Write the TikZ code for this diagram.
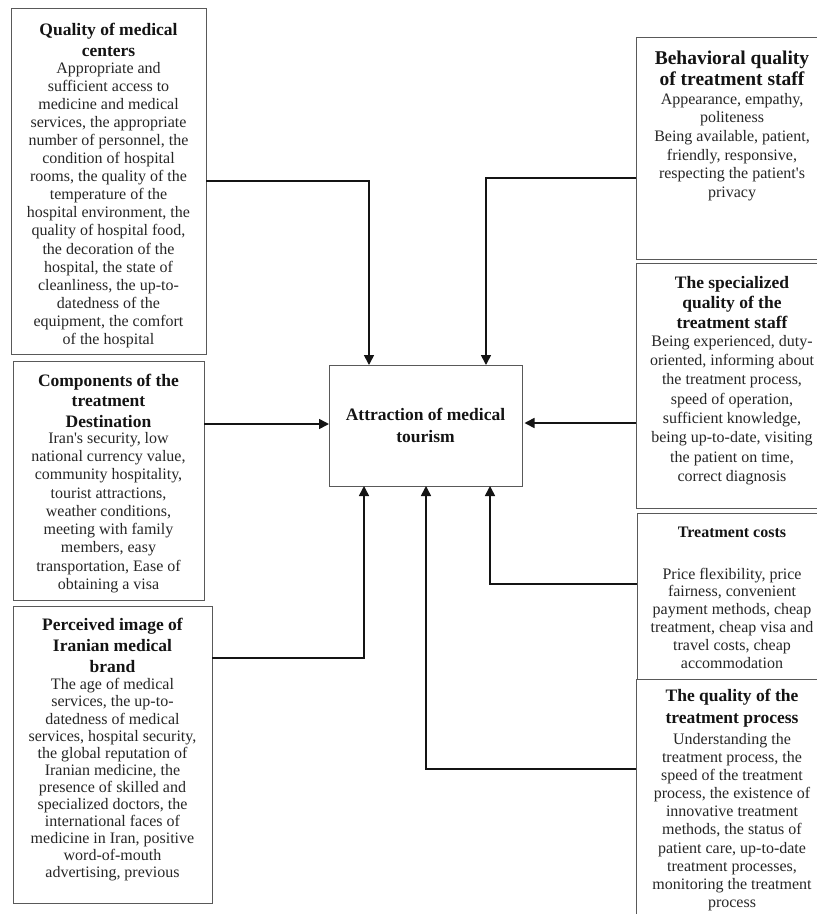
\documentclass[tikz,border=0pt]{standalone}
\usepackage{fontspec}
\setmainfont{Liberation Serif}
\usetikzlibrary{arrows.meta}
\begin{document}
\begin{tikzpicture}[x=1pt,y=-1pt,
  box/.style={draw=black!65, line width=0.9pt, rectangle, inner sep=0pt, outer sep=0pt, anchor=north west},
  ttl/.style 2 args={font=\bfseries\fontsize{#1}{#2}\selectfont, align=center, inner sep=0pt, text=black!92},
  bdy/.style={font=\fontsize{16}{#1}\selectfont, align=center, inner sep=0pt, text=black!85},
  conn/.style={draw=black!92, line width=1.6pt},
  arr/.style={conn, -{Triangle[length=10pt,width=10pt]}}]
\useasboundingbox (0,0) rectangle (817,914);
\clip (0,0) rectangle (817,914);

% boxes
\node[box, minimum width=195pt, minimum height=345.5pt] (b1) at (11,8.5) {};
\node[box, minimum width=191pt, minimum height=239pt] (b2) at (13,361) {};
\node[box, minimum width=199pt, minimum height=297pt] (b3) at (13,606) {};
\node[box, minimum width=192pt, minimum height=222pt] (r1) at (636,37) {};
\node[box, minimum width=192pt, minimum height=245pt] (r2) at (636,263) {};
\node[box, minimum width=191pt, minimum height=166pt] (r3) at (637,513) {};
\node[box, minimum width=192pt, minimum height=261pt] (r4) at (636,679) {};
\node[box, minimum width=193pt, minimum height=121pt] (c) at (329,365) {};

% texts
\node[ttl={17.5}{21}] (t1) at (108.5,39.5) {Quality of medical\\centers};
\node[bdy=18.07] (d1) at (108.5,205) {Appropriate and\\sufficient access to\\medicine and medical\\services, the appropriate\\number of personnel, the\\condition of hospital\\rooms, the quality of the\\temperature of the\\hospital environment, the\\quality of hospital food,\\the decoration of the\\hospital, the state of\\cleanliness, the up-to-\\datedness of the\\equipment, the comfort\\of the hospital};

\node[ttl={17.5}{20.5}] (t2) at (108.5,400.5) {Components of the\\treatment\\Destination};
\node[bdy=18.25] (d2) at (108.5,512.5) {Iran\textquotesingle s security, low\\national currency value,\\community hospitality,\\tourist attractions,\\weather conditions,\\meeting with family\\members, easy\\transportation, Ease of\\obtaining a visa};

\node[ttl={17.5}{21}] (t3) at (112.5,645) {Perceived image of\\Iranian medical\\brand};
\node[bdy=17.1] (d3) at (112.5,780) {The age of medical\\services, the up-to-\\datedness of medical\\services, hospital security,\\the global reputation of\\Iranian medicine, the\\presence of skilled and\\specialized doctors, the\\international faces of\\medicine in Iran, positive\\word-of-mouth\\advertising, previous};

\node[ttl={19.5}{21}] (t4) at (732,68.5) {Behavioral quality\\of treatment staff};
\node[bdy=18.6] (d4) at (732,147) {Appearance, empathy,\\politeness\\Being available, patient,\\friendly, responsive,\\respecting the patient\textquotesingle s\\privacy};

\node[ttl={17.5}{20}] (t5) at (732,303) {The specialized\\quality of the\\treatment staff};
\node[bdy=19.3] (d5) at (732,410) {Being experienced, duty-\\oriented, informing about\\the treatment process,\\speed of operation,\\sufficient knowledge,\\being up-to-date, visiting\\the patient on time,\\correct diagnosis};

\node[ttl={16}{18}] (t6) at (732,532) {Treatment costs};
\node[bdy=17.8] (d6) at (732,618) {Price flexibility, price\\fairness, convenient\\payment methods, cheap\\treatment, cheap visa and\\travel costs, cheap\\accommodation};

\node[ttl={17.5}{22}] (t7) at (732,708) {The quality of the\\treatment process};
\node[bdy=18.1] (d7) at (732,822) {Understanding the\\treatment process, the\\speed of the treatment\\process, the existence of\\innovative treatment\\methods, the status of\\patient care, up-to-date\\treatment processes,\\monitoring the treatment\\process};

\node[ttl={17.5}{22}] (tc) at (c.center) {Attraction of medical\\tourism};

% connectors
\draw[arr] (b1.east) -| ([xshift=-56.5pt]c.north);
\draw[arr] (r1.west |- 0,178) -| ([xshift=60.5pt]c.north);
\draw[arr] (b2.east |- 0,424) -- (c.west |- 0,424);
\draw[arr, shorten >=2.5pt] (r2.west |- 0,423) -- (c.east |- 0,423);
\draw[arr] (b3.east |- 0,658) -| ([xshift=-61.5pt]c.south);
\draw[arr] (r4.west |- 0,769) -| ([xshift=0.5pt]c.south);
\draw[arr] (r3.west |- 0,584) -| ([xshift=64.5pt]c.south);
\end{tikzpicture}
\end{document}
